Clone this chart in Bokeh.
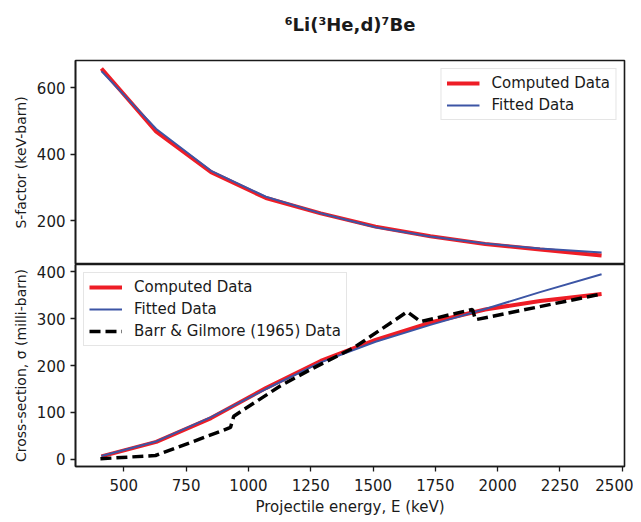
from bokeh.plotting import figure
from bokeh.layouts import column
from bokeh.models import Legend, LegendItem, FixedTicker, Range1d
from bokeh.embed import file_html
from bokeh.resources import INLINE

# ---- data ----
energy = [410, 630, 850, 1070, 1290, 1510, 1730, 1950, 2170, 2417]
s_computed = [658, 468, 346, 268, 222, 182, 153, 130, 113, 95]
s_fitted = [650, 476, 350, 272, 222, 180, 152, 131, 116, 104]
xs_computed = [6, 37, 88, 152, 210, 255, 292, 320, 338, 353]
xs_fitted = [7, 38, 90, 150, 207, 251, 287, 321, 357, 395]

barr_energy = [406, 627, 900, 928, 941, 1129, 1250, 1422, 1637, 1691, 1899, 1911, 2417]
barr_xs = [1, 8, 62, 68, 92, 157, 192, 238, 315, 294, 320, 298, 353]

x_ticks = [500, 750, 1000, 1250, 1500, 1750, 2000, 2250, 2500]
s_ticks = [200, 400, 600]
xs_ticks = [0, 100, 200, 300, 400]

TITLE = "\u2076Li(\u00b3He,d)\u2077Be"

RED = "#ee1d26"
BLUE = "#3c55a5"
FONT = "DejaVu Sans"
INK = "#1a1a1a"
FS = "15px"


def style(p):
    p.outline_line_color = INK
    p.outline_line_width = 1.6
    p.xgrid.visible = False
    p.ygrid.visible = False
    for ax in (p.xaxis, p.yaxis):
        ax.major_label_text_font = FONT
        ax.major_label_text_font_size = FS
        ax.major_label_text_color = INK
        ax.axis_label_text_font = FONT
        ax.axis_label_text_font_size = FS
        ax.axis_label_text_font_style = "normal"
        ax.axis_label_text_color = INK
        ax.axis_line_color = INK
        ax.axis_line_width = 1.6
        ax.major_tick_line_color = INK
        ax.major_tick_line_width = 1.3
        ax.major_tick_out = 5
        ax.major_tick_in = 0
        ax.minor_tick_line_color = None
    p.yaxis.axis_label_text_font_size = "14px"
    p.yaxis.major_label_standoff = 5
    p.yaxis.axis_label_standoff = 5
    p.xaxis.major_label_standoff = 7
    p.xaxis.axis_label_standoff = 4


def make_legend(items, loc):
    lg = Legend(items=items, location=loc)
    lg.label_text_font = FONT
    lg.label_text_font_size = FS
    lg.label_text_color = INK
    lg.border_line_color = "#cccccc"
    lg.border_line_width = 1
    lg.background_fill_alpha = 0.85
    lg.glyph_width = 33
    lg.glyph_height = 18
    lg.label_height = 18
    lg.label_standoff = 12
    lg.spacing = 4
    lg.padding = 5
    lg.margin = 8
    return lg


x_range = Range1d(306, 2509)

# ---- title strip (holds only the figure title) ----
p0 = figure(width=633, height=45, x_range=x_range, y_range=Range1d(0, 1),
            output_backend="svg", toolbar_location=None,
            min_border_left=75, min_border_right=9, min_border_top=0, min_border_bottom=0)
p0.axis.visible = False
p0.grid.visible = False
p0.outline_line_color = None
p0.title.text = TITLE
p0.title.align = "center"
p0.title.text_font = FONT
p0.title.text_font_size = "18px"
p0.title.text_font_style = "bold"
p0.title.text_color = INK
p0.title.offset = -7
p0.title.standoff = 22

# ---- top panel: S-factor ----
p1 = figure(width=633, height=219, x_range=x_range, y_range=Range1d(68, 682),
            output_backend="svg", toolbar_location=None,
            min_border_left=75, min_border_right=9, min_border_top=15, min_border_bottom=0)
style(p1)
p1.xaxis.visible = False
p1.yaxis.ticker = FixedTicker(ticks=s_ticks)
p1.yaxis.axis_label = "S-factor (keV-barn)"

r1 = p1.line(energy, s_computed, line_color=RED, line_width=4)
r2 = p1.line(energy, s_fitted, line_color=BLUE, line_width=2)
p1.add_layout(make_legend([LegendItem(label="Computed Data", renderers=[r1]),
                           LegendItem(label="Fitted Data", renderers=[r2])], "top_right"))

# ---- bottom panel: cross-section ----
p2 = figure(width=633, height=254, x_range=x_range, y_range=Range1d(-15.5, 416),
            output_backend="svg", toolbar_location=None,
            min_border_left=75, min_border_right=9, min_border_top=0, min_border_bottom=50)
style(p2)
p2.xaxis.ticker = FixedTicker(ticks=x_ticks)
p2.yaxis.ticker = FixedTicker(ticks=xs_ticks)
p2.xaxis.axis_label = "Projectile energy, E (keV)"
p2.yaxis.axis_label = "Cross-section, \u03c3 (milli-barn)"

q1 = p2.line(energy, xs_computed, line_color=RED, line_width=4)
q2 = p2.line(energy, xs_fitted, line_color=BLUE, line_width=2)
q3 = p2.line(barr_energy, barr_xs, line_color="black", line_width=3.5, line_dash="11 5")
p2.add_layout(make_legend([LegendItem(label="Computed Data", renderers=[q1]),
                           LegendItem(label="Fitted Data", renderers=[q2]),
                           LegendItem(label="Barr & Gilmore (1965) Data", renderers=[q3])],
                          "top_left"))

layout = column(p0, p1, p2, spacing=0)
open("out.html", "w").write(file_html(layout, INLINE))
